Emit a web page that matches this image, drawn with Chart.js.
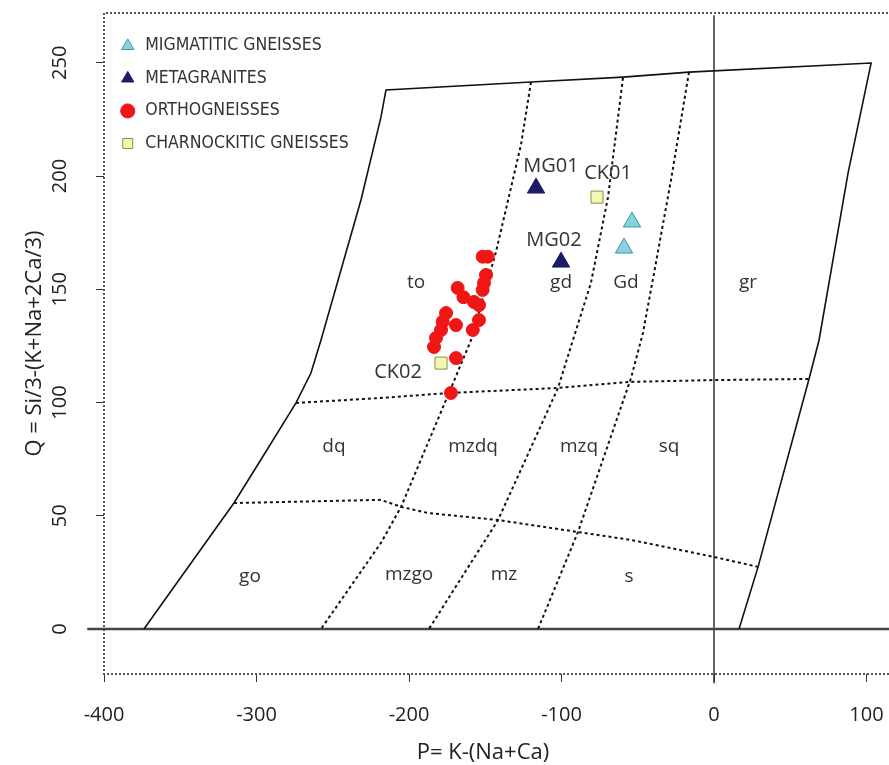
<!DOCTYPE html>
<html>
<head>
<meta charset="utf-8">
<script src="https://cdn.jsdelivr.net/npm/chart.js@4/dist/chart.umd.min.js"></script>
<style>
  html, body { margin: 0; padding: 0; background: #fff; }
  #wrap { width: 889px; height: 765px; position: relative; }
</style>
</head>
<body>
<div id="wrap"><canvas id="c"></canvas></div>
<script>
// P = K-(Na+Ca), Q = Si/3-(K+Na+2Ca/3)  -- samples
const migmatiticGneisses = [[-53.8, 179.7], [-59.0, 168.2]];
const metagranites = [[-116.7, 194.7], [-100.3, 162.0]];
const orthogneisses = [
  [-151.7, 164.4], [-148.4, 164.4], [-149.5, 156.3], [-150.8, 152.8], [-151.7, 149.7],
  [-168.1, 150.6], [-164.3, 146.5], [-157.4, 144.4], [-154.1, 143.0], [-154.1, 136.4],
  [-158.2, 132.0], [-175.7, 139.5], [-177.9, 135.7], [-169.2, 134.2], [-182.3, 128.5],
  [-183.6, 124.5], [-169.2, 119.6], [-172.5, 104.2], [-179.0, 132.0]
];
const charnockiticGneisses = [[-76.7, 190.7], [-179.0, 117.4]];

const sampleNames = [['MG01', -106.9, 204.4], ['CK01', -69.5, 201.3], ['MG02', -104.9, 171.7], ['CK02', -207.2, 113.5]];
const fieldNames = [
  ['to', -195.4, 152.8], ['gd', -100.3, 152.8], ['Gd', -57.7, 152.8], ['gr', 22.3, 152.8],
  ['dq', -249.2, 80.4], ['mzdq', -158.0, 80.4], ['mzq', -88.5, 80.4], ['sq', -29.5, 80.4],
  ['go', -304.3, 23.0], ['mzgo', -200.0, 23.8], ['mz', -137.7, 23.8], ['s', -55.7, 23.0]
];

// Debon & Le Fort field boundaries
const outerBoundary = [
  [-373.8, 0], [-314.8, 55.6], [-294.4, 77.7], [-274.1, 99.8], [-264.3, 113.0], [-257.7, 127.6],
  [-231.5, 189.4], [-218.4, 226.0], [-215.1, 238.0], [-120.0, 241.5], [-59.7, 243.7], [-16.4, 245.9],
  [103.0, 249.9], [87.9, 201.3], [68.9, 127.6], [62.3, 110.4], [28.9, 27.4], [16.4, 0]
];
const upperDivide = [[-274.1, 99.8], [-218.4, 102.0], [-173.8, 104.2], [-102.3, 106.4], [-54.4, 109.1], [0, 109.9], [62.3, 110.4]];
const lowerDivide = [[-314.8, 55.6], [-218.4, 57.0], [-205.2, 53.9], [-187.5, 51.2], [-141.6, 48.1], [-89.2, 42.8], [-54.4, 39.3], [0, 31.8], [28.9, 27.4]];
const divideA = [[-120.0, 241.5], [-126.6, 213.7], [-143.0, 166.4], [-159.3, 127.6], [-173.8, 104.2], [-205.2, 53.9], [-218.4, 38.0], [-257.7, 0]];
const divideB = [[-59.7, 243.3], [-69.5, 190.7], [-80.7, 152.8], [-92.5, 127.6], [-102.3, 106.4], [-141.6, 48.1], [-186.9, 0]];
const divideC = [[-16.4, 245.9], [-28.2, 198.2], [-39.3, 157.2], [-46.6, 130.7], [-54.4, 110.8], [-89.2, 42.8], [-115.4, 0]];
const zeroQ = [[-411, 0], [120, 0]];
const zeroP = [[0, 271], [0, -24]];
const frame = [[120, -19.9], [-400, -19.9], [-400, 272], [120, 272]];

const xTickValues = [-400, -300, -200, -100, 0, 100];
const yTickValues = [0, 50, 100, 150, 200, 250];
const xTitle = 'P= K-(Na+Ca)';
const yTitle = 'Q = Si/3-(K+Na+2Ca/3)';

const FONT = '"Open Sans", "DejaVu Sans", sans-serif';
const NARROW = '"Liberation Sans Narrow", "DejaVu Sans Condensed", sans-serif';

const pts = arr => arr.map(([x, y]) => ({x, y}));

function sampleSet(label, data, style, bg, border, r) {
  return {
    label, data: pts(data), pointStyle: style, backgroundColor: bg, borderColor: border,
    pointRadius: r, pointBorderWidth: 1, showLine: false, order: 0
  };
}

function lineSet(data, color, width, dash) {
  return {
    label: '', data: pts(data), showLine: true, pointRadius: 0, borderColor: color,
    borderWidth: width, borderDash: dash || [], fill: false, tension: 0, clip: false, order: 1
  };
}

// field names, sample names and the x title (R centres it off the frame)
const textPlugin = {
  id: 'fieldText',
  afterDatasetsDraw(chart) {
    const {ctx, scales: {x, y}} = chart;
    ctx.save();
    ctx.fillStyle = '#333';
    ctx.textAlign = 'center';
    ctx.textBaseline = 'middle';
    ctx.font = '19px ' + FONT;
    fieldNames.forEach(([t, px, py]) => ctx.fillText(t, x.getPixelForValue(px), y.getPixelForValue(py)));
    ctx.font = '20px ' + FONT;
    sampleNames.forEach(([t, px, py]) => ctx.fillText(t, x.getPixelForValue(px), y.getPixelForValue(py)));
    ctx.fillStyle = '#222';
    ctx.font = '22px ' + FONT;
    ctx.fillText(xTitle, x.getPixelForValue(-151.5), 753);
    ctx.restore();
  }
};

function draw() {
  new Chart(document.getElementById('c'), {
    type: 'scatter',
    data: {
      datasets: [
        sampleSet('MIGMATITIC GNEISSES', migmatiticGneisses, 'triangle', '#86d3de', '#3c96a4', 10),
        sampleSet('METAGRANITES', metagranites, 'triangle', '#1d1a68', '#1d1a68', 10),
        sampleSet('ORTHOGNEISSES', orthogneisses, 'circle', '#f01616', '#f01616', 6.5),
        sampleSet('CHARNOCKITIC GNEISSES', charnockiticGneisses, 'rect', '#f4f6b4', '#8f913c', 8.5),
        lineSet(outerBoundary, '#111', 1.6),
        lineSet(upperDivide, '#111', 2, [3, 3]),
        lineSet(lowerDivide, '#111', 2, [3, 3]),
        lineSet(divideA, '#111', 2, [3, 3]),
        lineSet(divideB, '#111', 2, [3, 3]),
        lineSet(divideC, '#111', 2, [3, 3]),
        lineSet(zeroQ, '#444', 2.5),
        lineSet(zeroP, '#222', 1.4),
        lineSet(frame, '#555', 2, [2, 2])
      ]
    },
    options: {
      responsive: true,
      maintainAspectRatio: false,
      animation: false,
      events: [],
      layout: { autoPadding: false, padding: { top: 13, right: 0, bottom: 0, left: 0 } },
      scales: {
        x: {
          type: 'linear', min: -400, max: 114.75,
          afterBuildTicks: axis => { axis.ticks = xTickValues.map(v => ({value: v})); },
          afterFit: axis => { axis.height = 91; axis.paddingLeft = 0; axis.paddingRight = 0; },
          grid: { display: true, drawOnChartArea: false, drawTicks: true, tickLength: 8, color: '#333', lineWidth: 1 },
          border: { display: false },
          ticks: { font: { size: 20, family: FONT }, color: '#222', padding: 21, maxRotation: 0 },
          title: { display: false }
        },
        y: {
          type: 'linear', min: -19.9, max: 272,
          afterBuildTicks: axis => { axis.ticks = yTickValues.map(v => ({value: v})); },
          afterFit: axis => { axis.width = 104; axis.paddingTop = 0; axis.paddingBottom = 0; },
          grid: { display: true, drawOnChartArea: false, drawTicks: true, tickLength: 8, color: '#333', lineWidth: 1 },
          border: { display: false },
          ticks: { font: { size: 20, family: FONT }, color: '#222', padding: 19, minRotation: 90, maxRotation: 90, crossAlign: 'center' },
          title: { display: true, text: yTitle, font: { size: 22, family: FONT }, color: '#222', padding: { top: 22, bottom: 0 } }
        }
      },
      plugins: {
        tooltip: { enabled: false },
        legend: {
          position: 'chartArea',
          align: 'start',
          title: { display: true, text: '', font: { size: 1 }, padding: { top: 21, bottom: 0 } },
          labels: {
            usePointStyle: true,
            boxHeight: 10,
            padding: 15,
            color: '#333',
            font: { size: 17.5, family: NARROW },
            filter: item => item.datasetIndex < 4
          }
        }
      }
    },
    plugins: [textPlugin]
  });
}

Promise.all([
  document.fonts.load('20px "Open Sans"'),
  document.fonts.load('16px "Liberation Sans Narrow"')
]).then(draw, draw);
</script>
</body>
</html>
